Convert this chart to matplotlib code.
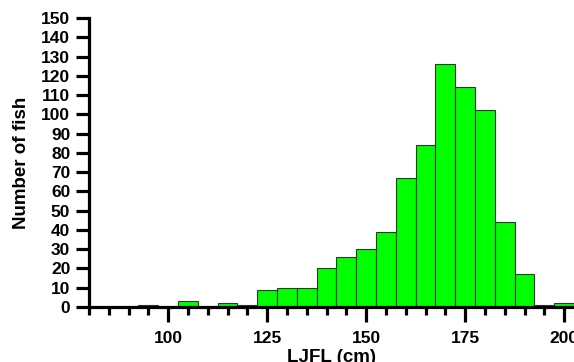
import matplotlib
matplotlib.use('Agg')
import matplotlib.pyplot as plt
from matplotlib.ticker import MultipleLocator

# bin centres (cm) and counts per 5 cm bin
bins = [85, 90, 95, 100, 105, 110, 115, 120, 125, 130, 135, 140, 145, 150,
        155, 160, 165, 170, 175, 180, 185, 190, 195, 200]
counts = [0, 0, 1, 0, 3, 0, 2, 1, 9, 10, 10, 20, 26, 30,
          39, 67, 84, 126, 114, 102, 44, 17, 1, 2]

plt.rcParams['font.family'] = ['Liberation Sans', 'DejaVu Sans']
plt.rcParams['font.weight'] = 'bold'

fig = plt.figure(figsize=(5.74, 3.62), dpi=100)
ax = fig.add_axes([89 / 574, 55 / 362, 1 - 89 / 574, (307 - 18) / 362])

ax.bar(bins, counts, width=5, color='#00ff00', edgecolor='#333333', linewidth=0.8)

ax.set_xlim(80, 202.5)
ax.set_ylim(0, 150)
ax.set_yticks(range(0, 151, 10))
ax.set_xticks([100, 125, 150, 175, 200])
ax.xaxis.set_minor_locator(MultipleLocator(5))

for s in ['top', 'right']:
    ax.spines[s].set_visible(False)
for s in ['left', 'bottom']:
    ax.spines[s].set_linewidth(2.3)
    ax.spines[s].set_color('black')

ax.tick_params(axis='y', which='major', length=9.5, width=2.3, pad=4, labelsize=12.5)
ax.tick_params(axis='x', which='major', length=11, width=2.3, pad=6, labelsize=12.5)
ax.tick_params(axis='x', which='minor', length=6, width=2.3)
for lab in ax.get_xticklabels() + ax.get_yticklabels():
    lab.set_fontweight('bold')

ax.set_ylabel('Number of fish', fontsize=13.5, fontweight='bold', labelpad=8)
ax.set_xlabel('LJFL (cm)', fontsize=13.5, fontweight='bold', labelpad=2.5)

fig.savefig('out.png', dpi=100)
